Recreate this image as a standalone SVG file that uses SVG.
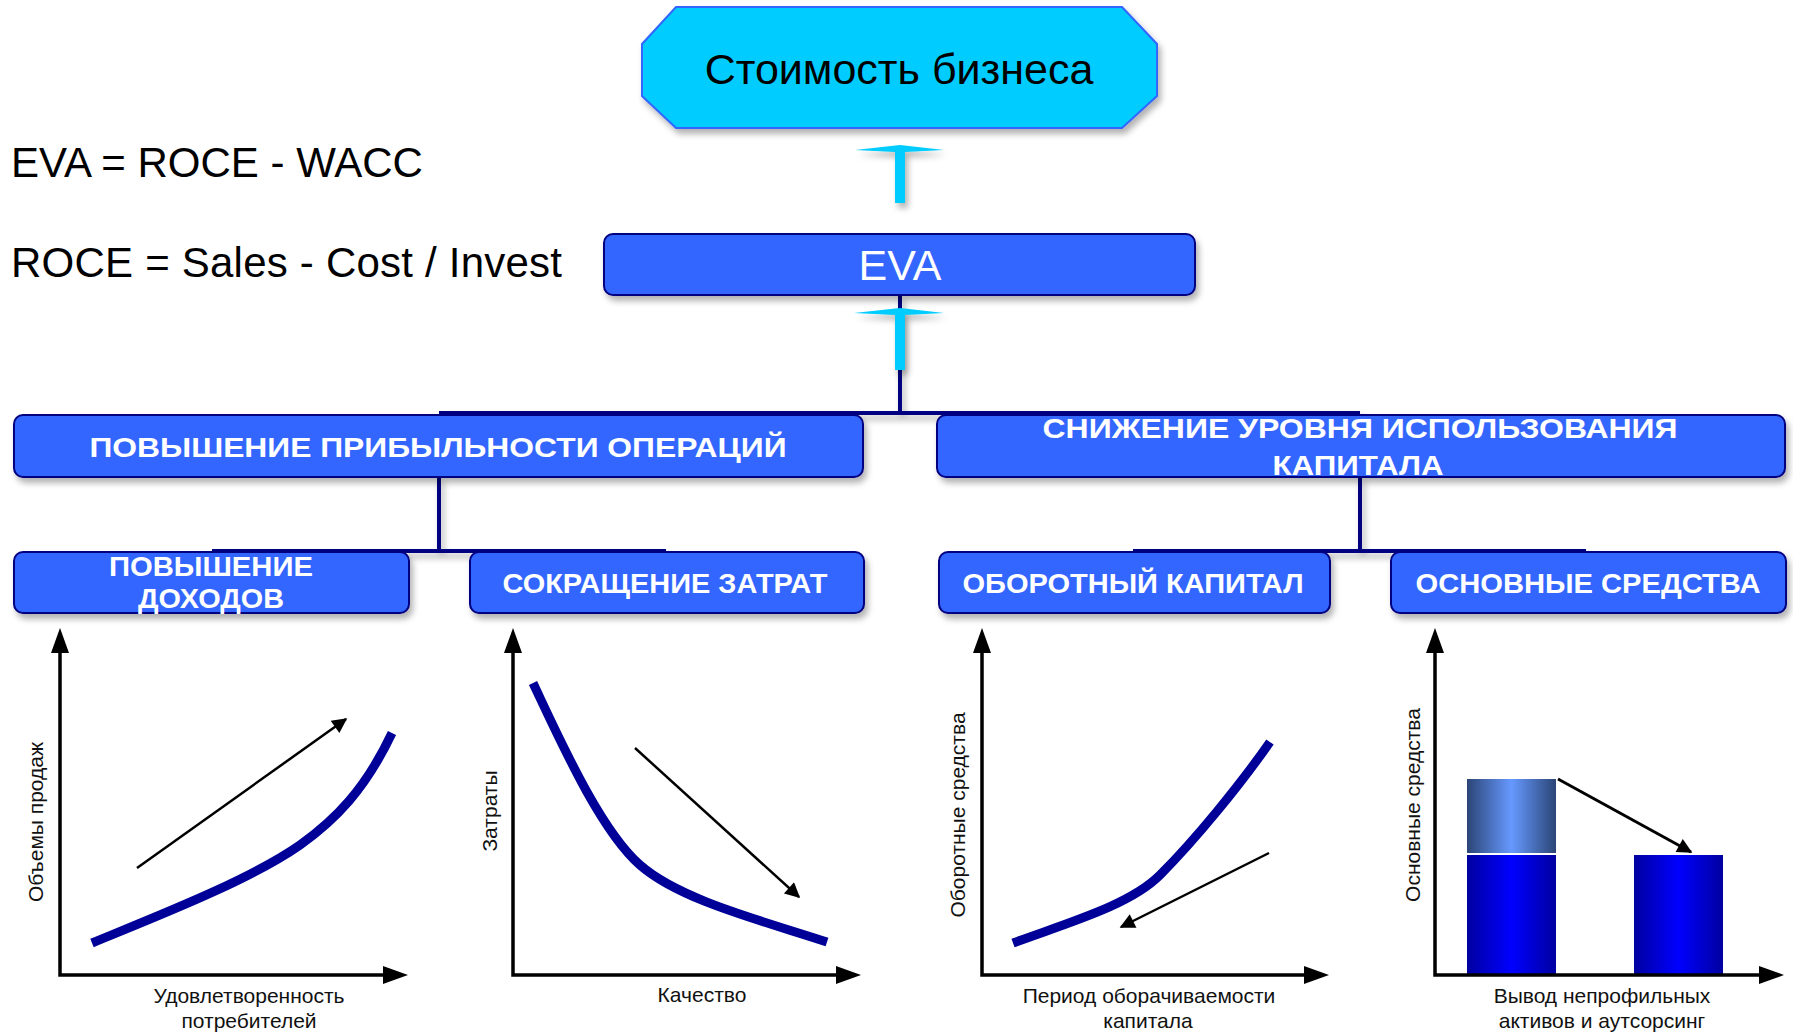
<svg xmlns="http://www.w3.org/2000/svg" width="1793" height="1033" viewBox="0 0 1793 1033">
<style>
.box{fill:#3366FF;stroke:#000080;stroke-width:2}
.bt{font-family:"Liberation Sans",Arial,sans-serif;font-weight:bold;font-size:28px;fill:#fff;text-anchor:middle}
.conn{stroke:#000080;stroke-width:4;fill:none}
.cyan{fill:#00CCFF}
.axis{stroke:#000;stroke-width:3.5;fill:none}
.curve{stroke:#000099;stroke-width:9;fill:none}
.tr{stroke:#000;stroke-width:2.5;fill:none}
.lbl{font-family:"Liberation Sans",Arial,sans-serif;font-size:21px;fill:#111;text-anchor:middle}
.big{font-family:"Liberation Sans",Arial,sans-serif;font-size:42px;fill:#000}
</style>
<defs>
<filter id="sh" x="-10%" y="-20%" width="120%" height="160%">
<feDropShadow dx="3" dy="5" stdDeviation="3" flood-color="#000" flood-opacity="0.3"/>
</filter>
<marker id="ah" viewBox="0 0 10 10" refX="9" refY="5" markerWidth="22" markerHeight="15" markerUnits="userSpaceOnUse" orient="auto">
<path d="M0,0 L10,5 L0,10 Z" fill="#000"/>
</marker>
<linearGradient id="gTop" x1="0" y1="0" x2="1" y2="0">
<stop offset="0" stop-color="#2B4576"/>
<stop offset="0.5" stop-color="#6699FF"/>
<stop offset="1" stop-color="#2B4576"/>
</linearGradient>
<linearGradient id="gBot" x1="0" y1="0" x2="1" y2="0">
<stop offset="0" stop-color="#0000A0"/>
<stop offset="0.5" stop-color="#0000FF"/>
<stop offset="1" stop-color="#0000A0"/>
</linearGradient>
</defs>
<rect width="1793" height="1033" fill="#fff"/>

<g id="connectors">
<path class="conn" d="M900,295 V413 M439,413 H1360 M439,477 V551 M212,551 H666 M1360,477 V551 M1133,551 H1586" filter="url(#sh)"/>
<path class="cyan" filter="url(#sh)" d="M855,150 L900,145 L944,150 L905,152 L905,203 L895,203 L895,152 Z"/>
<path class="cyan" filter="url(#sh)" d="M854,313 L900,308 L944,313 L905,315 L905,370 L895,370 L895,315 Z"/>
</g>

<g id="node-value">
<polygon points="676,7 1122,7 1157,44 1157,96 1122,128 676,128 642,96 642,44" fill="#00CCFF" stroke="#3366FF" stroke-width="2" filter="url(#sh)"/>
<text x="899" y="84" font-family="Liberation Sans,Arial,sans-serif" font-size="43" fill="#000" text-anchor="middle">Стоимость бизнеса</text>
</g>

<g id="formulas">
<text class="big" x="11" y="177">EVA = ROCE - WACC</text>
<text class="big" x="11" y="277" textLength="551">ROCE = Sales - Cost / Invest</text>
</g>

<g id="node-eva">
<rect class="box" x="604" y="234" width="591" height="61" rx="9" filter="url(#sh)"/>
<text x="900" y="280" font-family="Liberation Sans,Arial,sans-serif" font-size="43" fill="#fff" text-anchor="middle">EVA</text>
</g>

<g id="node-profit">
<rect class="box" x="14" y="415" width="849" height="62" rx="9" filter="url(#sh)"/>
<text class="bt" x="438" y="457" textLength="697" lengthAdjust="spacingAndGlyphs">ПОВЫШЕНИЕ ПРИБЫЛЬНОСТИ ОПЕРАЦИЙ</text>
</g>

<g id="node-capital">
<rect class="box" x="937" y="415" width="848" height="62" rx="9" filter="url(#sh)"/>
<text class="bt" x="1360" y="438" textLength="635" lengthAdjust="spacingAndGlyphs">СНИЖЕНИЕ УРОВНЯ ИСПОЛЬЗОВАНИЯ</text>
<text class="bt" x="1358" y="475" textLength="171" lengthAdjust="spacingAndGlyphs">КАПИТАЛА</text>
</g>

<g id="node-income">
<rect class="box" x="14" y="552" width="395" height="61" rx="9" filter="url(#sh)"/>
<text class="bt" x="211" y="576" textLength="204" lengthAdjust="spacingAndGlyphs">ПОВЫШЕНИЕ</text>
<text class="bt" x="211" y="608" textLength="146" lengthAdjust="spacingAndGlyphs">ДОХОДОВ</text>
</g>

<g id="node-costs">
<rect class="box" x="470" y="552" width="394" height="61" rx="9" filter="url(#sh)"/>
<text class="bt" x="665" y="593" textLength="325" lengthAdjust="spacingAndGlyphs">СОКРАЩЕНИЕ ЗАТРАТ</text>
</g>

<g id="node-working">
<rect class="box" x="939" y="552" width="391" height="61" rx="9" filter="url(#sh)"/>
<text class="bt" x="1133" y="593" textLength="341" lengthAdjust="spacingAndGlyphs">ОБОРОТНЫЙ КАПИТАЛ</text>
</g>

<g id="node-fixed">
<rect class="box" x="1391" y="552" width="395" height="61" rx="9" filter="url(#sh)"/>
<text class="bt" x="1588" y="593" textLength="345" lengthAdjust="spacingAndGlyphs">ОСНОВНЫЕ СРЕДСТВА</text>
</g>

<g id="chart1">
<path class="axis" d="M60,650 V975 H385"/>
<polygon points="60,628 51,653 69,653"/>
<polygon points="408,975 383,966 383,984"/>
<path class="curve" d="M92,943 C160,915 250,880 300,845 C335,820 365,790 392,733"/>
<line class="tr" x1="137" y1="868" x2="346" y2="719" marker-end="url(#ah)"/>
<text class="lbl" transform="translate(43,822) rotate(-90)">Объемы продаж</text>
<text class="lbl" x="249" y="1003">Удовлетворенность</text>
<text class="lbl" x="249" y="1028">потребителей</text>
</g>

<g id="chart2">
<path class="axis" d="M513,650 V975 H838"/>
<polygon points="513,628 504,653 522,653"/>
<polygon points="861,975 836,966 836,984"/>
<path class="curve" d="M533,683 C560,740 600,830 640,865 C680,900 760,920 827,942"/>
<line class="tr" x1="635" y1="748" x2="799" y2="897" marker-end="url(#ah)"/>
<text class="lbl" transform="translate(497,811) rotate(-90)">Затраты</text>
<text class="lbl" x="702" y="1002">Качество</text>
</g>

<g id="chart3">
<path class="axis" d="M982,650 V975 H1306"/>
<polygon points="982,628 973,653 991,653"/>
<polygon points="1329,975 1304,966 1304,984"/>
<path class="curve" d="M1013,943 C1070,922 1130,905 1160,875 C1195,840 1240,785 1270,742"/>
<line class="tr" x1="1269" y1="853" x2="1121" y2="927" marker-end="url(#ah)"/>
<text class="lbl" transform="translate(965,815) rotate(-90)">Оборотные средства</text>
<text class="lbl" x="1149" y="1003">Период оборачиваемости</text>
<text class="lbl" x="1148" y="1028">капитала</text>
</g>

<g id="chart4">
<rect x="1467" y="779" width="89" height="74" fill="url(#gTop)"/>
<rect x="1467" y="855" width="89" height="120" fill="url(#gBot)"/>
<rect x="1634" y="855" width="89" height="120" fill="url(#gBot)"/>
<path class="axis" d="M1435,650 V975 H1760"/>
<polygon points="1435,628 1426,653 1444,653"/>
<polygon points="1784,975 1759,966 1759,984"/>
<line x1="1558" y1="779" x2="1691" y2="852" stroke="#000" stroke-width="3" marker-end="url(#ah)"/>
<text class="lbl" transform="translate(1420,805) rotate(-90)">Основные средства</text>
<text class="lbl" x="1602" y="1003">Вывод непрофильных</text>
<text class="lbl" x="1602" y="1028">активов и аутсорсинг</text>
</g>
</svg>
